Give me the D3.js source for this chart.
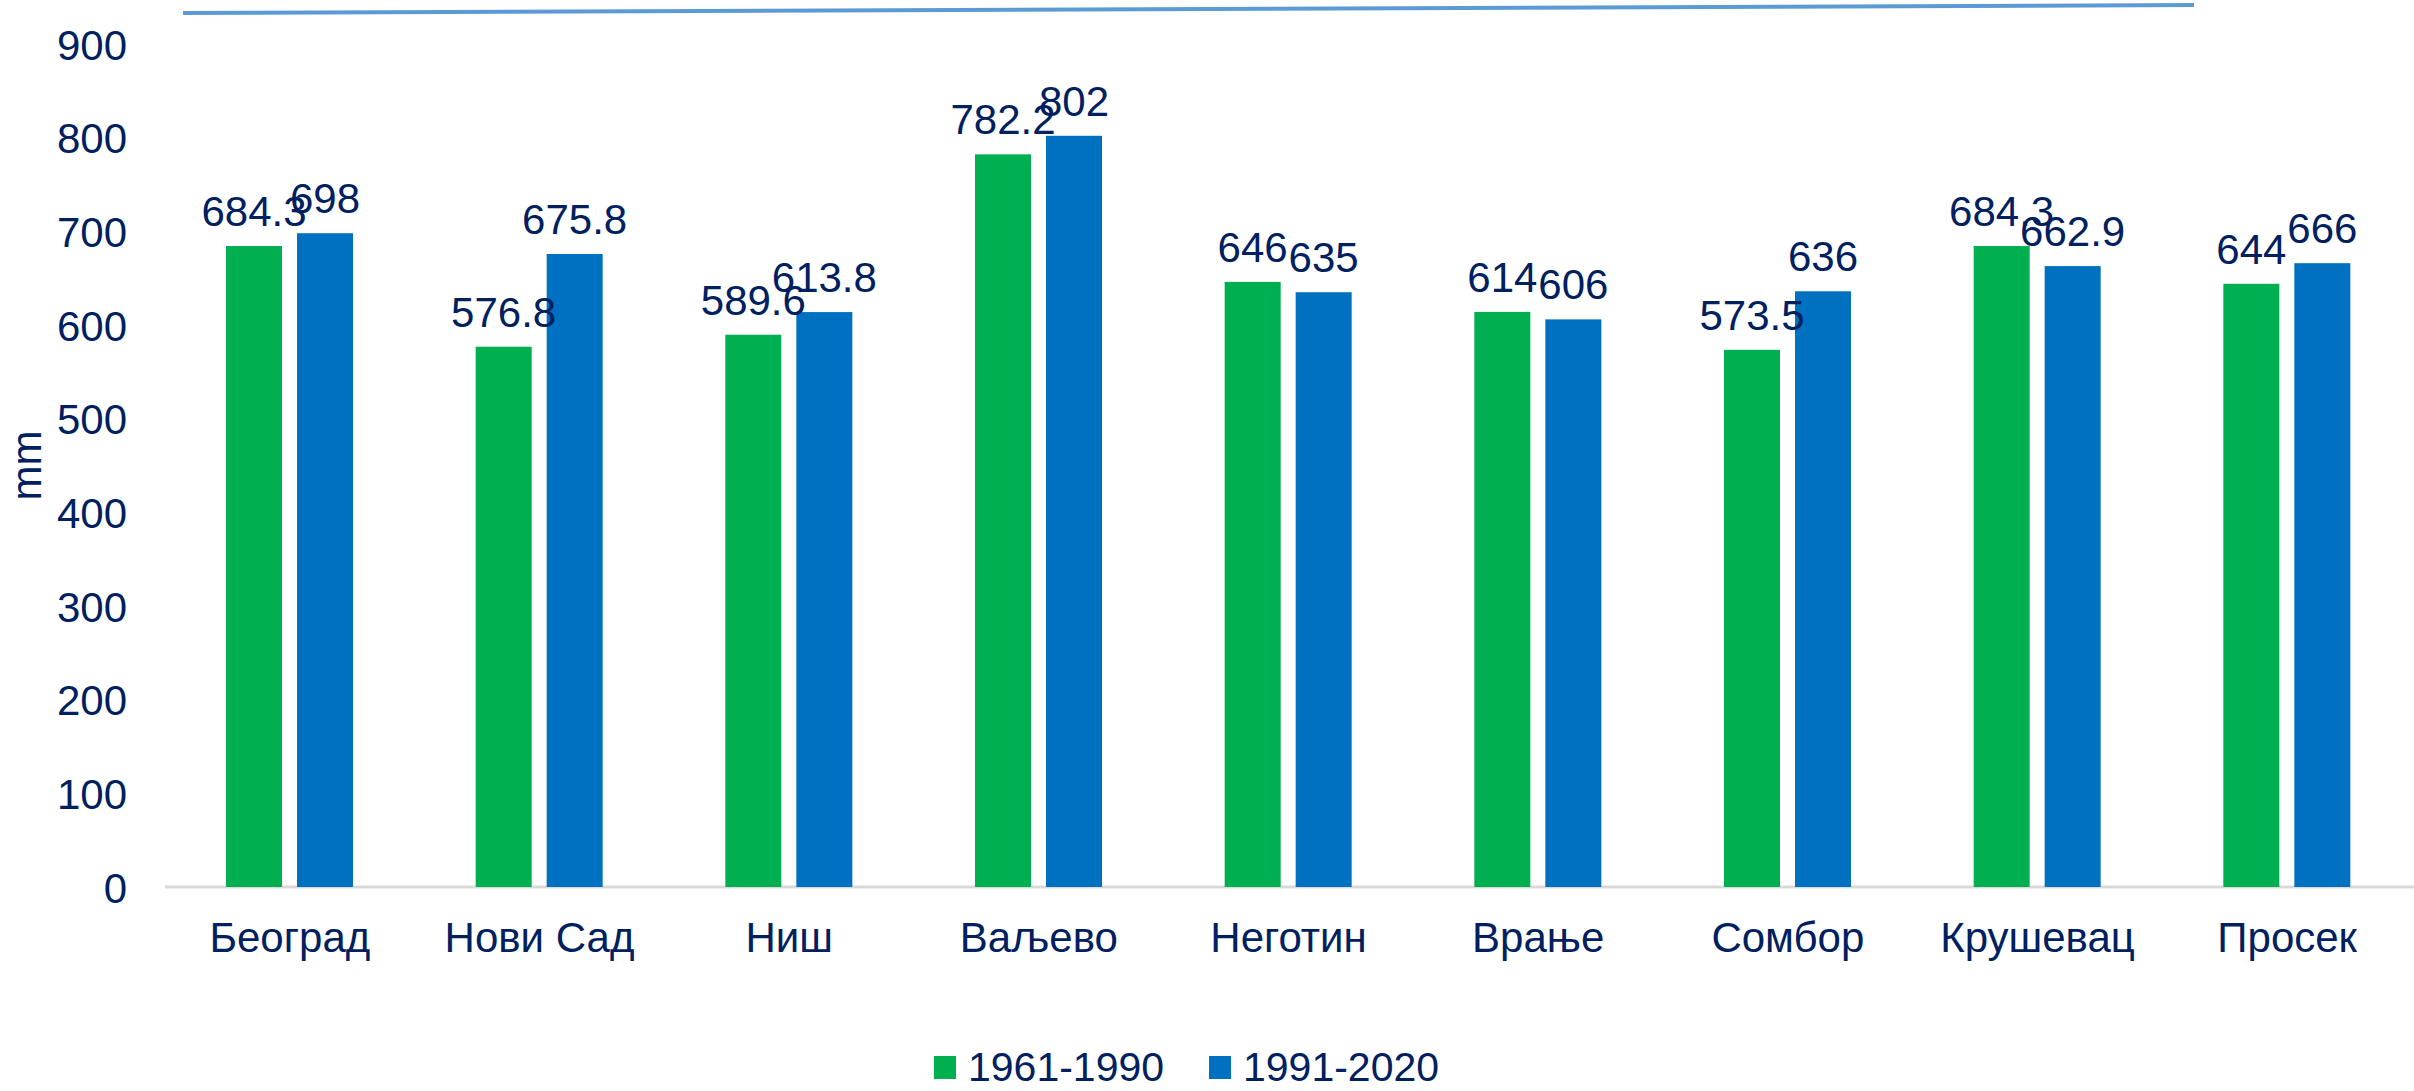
<!DOCTYPE html>
<html>
<head>
<meta charset="utf-8">
<script src="https://cdn.jsdelivr.net/npm/d3@7/dist/d3.min.js"></script>
<style>
  html, body { margin: 0; padding: 0; background: #ffffff; }
  svg { display: block; }
  text { font-family: "Liberation Sans", Arial, sans-serif; fill: #002060; }
</style>
</head>
<body>
<svg id="chart" width="2414" height="1091"></svg>
<script>
// Annual precipitation (mm) by station, two climate normal periods
const categories = ["Београд", "Нови Сад", "Ниш", "Ваљево", "Неготин", "Врање", "Сомбор", "Крушевац", "Просек"];
const series = ["1961-1990", "1991-2020"];
const values1961 = [684.3, 576.8, 589.6, 782.2, 646, 614, 573.5, 684.3, 644];
const values1991 = [698, 675.8, 613.8, 802, 635, 606, 636, 662.9, 666];
const yTicks = [0, 100, 200, 300, 400, 500, 600, 700, 800, 900];
const colors = ["#00B050", "#0070C0"];
const axisTitle = "mm";

const svg = d3.select("#chart");
const W = 2414, H = 1091;
const plot = { left: 165, right: 2412, top: 44, bottom: 887 };
const FONT = "'Liberation Sans', Arial, sans-serif";

const x0 = d3.scaleBand().domain(categories).range([plot.left, plot.right]).padding(0);
const x1 = d3.scaleBand().domain(series).range([61, 188]).paddingInner(15 / 71).paddingOuter(0);
const y = d3.scaleLinear().domain([0, 900]).range([plot.bottom, plot.top]);

const rows = categories.map((c, i) => ({ cat: c, vals: [values1961[i], values1991[i]] }));

// decorative rule across the top
svg.append("line")
  .attr("x1", 183).attr("y1", 13).attr("x2", 2194).attr("y2", 5)
  .attr("stroke", "#5B9BD5").attr("stroke-width", 4);

// y axis: labels only
const yAxis = d3.axisLeft(y).tickValues(yTicks).tickSize(0).tickPadding(0);
const yg = svg.append("g").attr("transform", `translate(127,0)`).call(yAxis);
yg.select(".domain").remove();
yg.selectAll("text")
  .attr("font-size", 42)
  .attr("fill", "#002060")
  .attr("font-family", FONT)
  .attr("dy", "0.36em");

// axis title
svg.append("text")
  .attr("transform", `translate(41, ${y(450)}) rotate(-90)`)
  .attr("text-anchor", "middle")
  .attr("font-size", 42)
  .text(axisTitle);

// baseline
svg.append("line")
  .attr("x1", plot.left).attr("x2", W)
  .attr("y1", y(0)).attr("y2", y(0))
  .attr("stroke", "#D9D9D9").attr("stroke-width", 3);

// bars and value labels
const groups = svg.append("g").selectAll("g")
  .data(rows).join("g")
  .attr("transform", d => `translate(${x0(d.cat)},0)`);

groups.selectAll("rect")
  .data(d => d.vals.map((v, k) => ({ v, k })))
  .join("rect")
  .attr("x", d => x1(series[d.k]))
  .attr("width", x1.bandwidth())
  .attr("y", d => y(d.v))
  .attr("height", d => y(0) - y(d.v))
  .attr("fill", d => colors[d.k]);

groups.selectAll("text.val")
  .data(d => d.vals.map((v, k) => ({ v, k })))
  .join("text")
  .attr("class", "val")
  .attr("x", d => x1(series[d.k]) + x1.bandwidth() / 2)
  .attr("y", d => y(d.v) - 20)
  .attr("text-anchor", "middle")
  .attr("font-size", 42)
  .text(d => String(d.v));

// category labels
const xAxis = d3.axisBottom(x0).tickSize(0).tickPadding(0);
const xg = svg.append("g").attr("transform", `translate(0,${y(0)})`).call(xAxis);
xg.select(".domain").remove();
xg.selectAll("text")
  .attr("font-size", 42)
  .attr("fill", "#002060")
  .attr("font-family", FONT)
  .attr("dy", 0)
  .attr("y", 65);

// legend
const legendItems = [
  { label: series[0], color: colors[0], x: 934 },
  { label: series[1], color: colors[1], x: 1209 }
];
const lg = svg.append("g");
legendItems.forEach(it => {
  lg.append("rect")
    .attr("x", it.x).attr("y", 1056)
    .attr("width", 22).attr("height", 23)
    .attr("fill", it.color);
  lg.append("text")
    .attr("x", it.x + 34).attr("y", 1081)
    .attr("font-size", 41)
    .text(it.label);
});
</script>
</body>
</html>
